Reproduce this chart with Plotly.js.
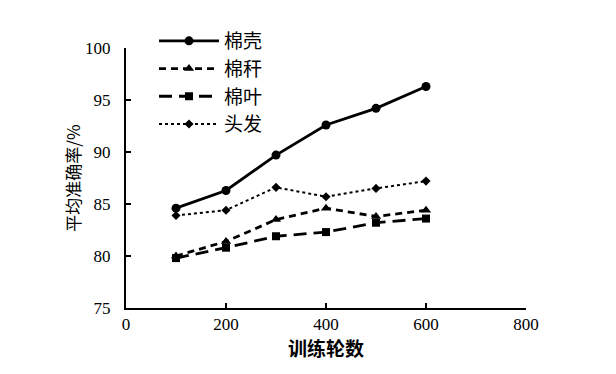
<!DOCTYPE html>
<html><head><meta charset="utf-8">
<script src="https://cdn.plot.ly/plotly-3.0.1.min.js"></script>
<style>body{margin:0;background:#fff}#c{width:616px;height:374px}</style>
</head><body><div id="c"></div>
<script>
const epochs = [100, 200, 300, 400, 500, 600];
const mianKe = [84.6, 86.3, 89.7, 92.6, 94.2, 96.3];
const mianGan = [80.0, 81.4, 83.5, 84.6, 83.8, 84.4];
const mianYe = [79.8, 80.8, 81.9, 82.3, 83.2, 83.6];
const touFa = [83.9, 84.4, 86.6, 85.7, 86.5, 87.2];
const names = ['棉壳', '棉秆', '棉叶', '头发'];
const xTicks = [0, 200, 400, 600, 800];
const yTicks = [75, 80, 85, 90, 95, 100];

const F = 'Liberation Serif';
const C = 'Noto Sans CJK SC';
const traces = [
  {x: epochs, y: mianKe, name: names[0], mode: 'lines+markers',
   line: {color: '#000', width: 2.8, dash: 'solid'}, marker: {symbol: 'circle', size: 9, color: '#000'}},
  {x: epochs, y: mianGan, name: names[1], mode: 'lines+markers',
   line: {color: '#000', width: 2.8, dash: '7px,5px'}, marker: {symbol: 'triangle-up', size: 9, color: '#000'}},
  {x: epochs, y: mianYe, name: names[2], mode: 'lines+markers',
   line: {color: '#000', width: 2.8, dash: '13px,7px'}, marker: {symbol: 'square', size: 8, color: '#000'}},
  {x: epochs, y: touFa, name: names[3], mode: 'lines+markers',
   line: {color: '#000', width: 2, dash: 'dot'}, marker: {symbol: 'diamond', size: 7, color: '#000'}}
];
const layout = {
  width: 616, height: 374,
  margin: {l: 126, r: 90, t: 48, b: 66},
  paper_bgcolor: '#fff', plot_bgcolor: '#fff',
  font: {family: F, size: 16, color: '#000'},
  showlegend: true,
  legend: {x: 0.07, y: 1.1, xanchor: 'left', yanchor: 'top', bgcolor: 'rgba(0,0,0,0)',
           font: {family: C, size: 19, color: '#000'}, itemwidth: 60, tracegroupgap: 0},
  xaxis: {range: [0, 800], tickvals: xTicks, ticktext: xTicks.map(String), showgrid: false, zeroline: false,
          showline: true, linecolor: '#000', linewidth: 2, ticks: 'inside', ticklen: 5, tickwidth: 2, tickcolor: '#000',
          tickfont: {family: F, size: 17},
          title: {text: '<b>训练轮数</b>', font: {family: C, size: 19}, standoff: 6}},
  yaxis: {range: [75, 100], tickvals: yTicks, ticktext: yTicks.map(String), showgrid: false, zeroline: false,
          showline: true, linecolor: '#000', linewidth: 2, ticks: 'inside', ticklen: 5, tickwidth: 2, tickcolor: '#000',
          tickfont: {family: F, size: 17}, ticklabelstandoff: 10,
          title: {text: '平均准确率/%', font: {family: C, size: 17}, standoff: 0}}
};
Plotly.newPlot('c', traces, layout, {displayModeBar: false, staticPlot: true});
</script></body></html>
